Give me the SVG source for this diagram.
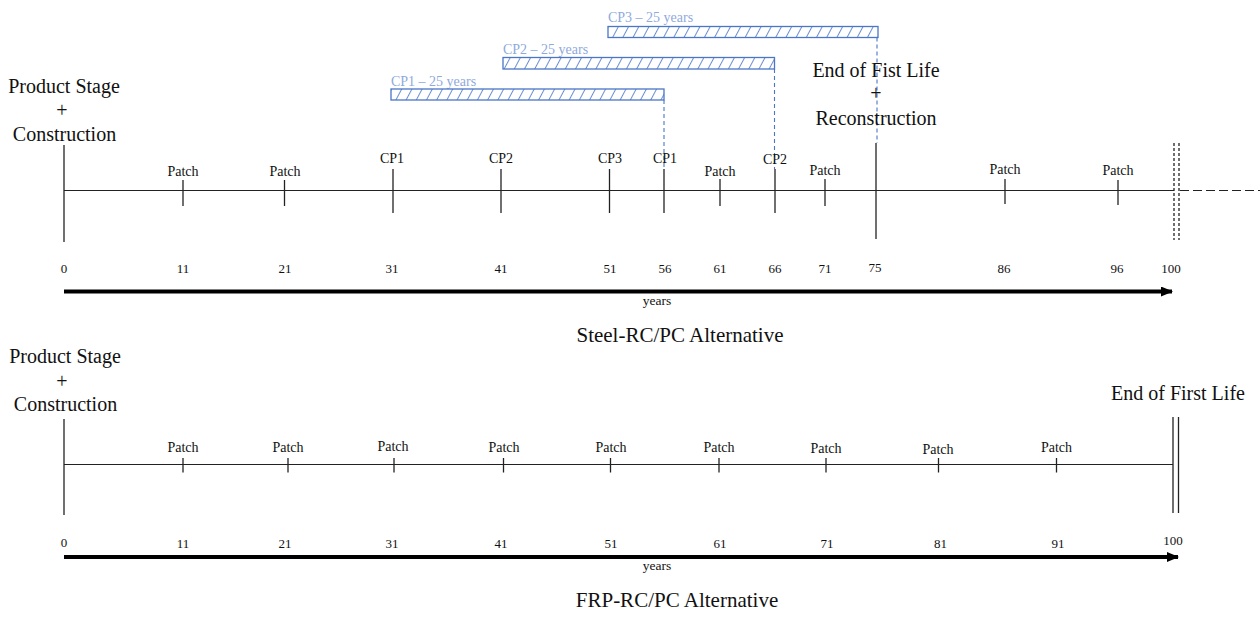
<svg xmlns="http://www.w3.org/2000/svg" width="1260" height="619" viewBox="0 0 1260 619">
<defs>
<style>
text{font-family:"Liberation Serif","Times New Roman",serif;fill:#111}
.big{font-size:20px;text-anchor:middle}
.title{font-size:21px;text-anchor:middle}
.lbl{font-size:14px;text-anchor:middle}
.num{font-size:13px;text-anchor:middle}
.yrs{font-size:13.5px;text-anchor:middle}
.cpl{font-size:14px;fill:#8faadc}
.ax{stroke:#222;stroke-width:1.2;fill:none}
.tk{stroke:#222;stroke-width:1.3;fill:none}
.bar{fill:url(#hatch);stroke:#4a76c6;stroke-width:1.3}
.dsh{stroke:#4a76c6;stroke-width:1.1;stroke-dasharray:4 3;fill:none}
.arr{stroke:#000;stroke-width:4;fill:none}
</style>
<pattern id="hatch" patternUnits="userSpaceOnUse" width="9" height="20" patternTransform="rotate(28)">
<rect width="9" height="20" fill="#fff"/>
<line x1="0.5" y1="0" x2="0.5" y2="20" stroke="#6a8fd2" stroke-width="1"/>
</pattern>
<marker id="ah" viewBox="0 0 12 10" refX="11" refY="5" markerWidth="12" markerHeight="10" markerUnits="userSpaceOnUse" orient="auto">
<path d="M0,0 L12,5 L0,10 Z" fill="#000"/>
</marker>
</defs>

<!-- Connectors: axes, ticks, arrows, dashed guides -->
<g id="connectors">
<!-- top timeline -->
<line class="ax" x1="64" y1="190.5" x2="1174" y2="190.5"/>
<line class="ax" x1="1180" y1="190.5" x2="1260" y2="190.5" stroke-dasharray="9 4"/>
<line class="tk" x1="64" y1="145" x2="64" y2="242"/>
<line class="tk" x1="876" y1="143" x2="876" y2="239"/>
<line class="tk" x1="1174" y1="143" x2="1174" y2="240" stroke-dasharray="3 2"/>
<line class="tk" x1="1179" y1="143" x2="1179" y2="240" stroke-dasharray="3 2"/>
<line class="arr" x1="64" y1="291.5" x2="1172" y2="291.5" marker-end="url(#ah)"/>
<line class="dsh" x1="664" y1="100" x2="664" y2="169"/>
<line class="dsh" x1="774.5" y1="69" x2="774.5" y2="169"/>
<line class="dsh" x1="877" y1="37.5" x2="877" y2="143"/>
<!-- bottom timeline -->
<line class="ax" x1="64" y1="464.5" x2="1173" y2="464.5"/>
<line class="tk" x1="64" y1="419" x2="64" y2="515"/>
<line class="tk" x1="1173" y1="417" x2="1173" y2="513"/>
<line class="tk" x1="1178.5" y1="417" x2="1178.5" y2="513"/>
<line class="arr" x1="64" y1="557" x2="1178" y2="557" marker-end="url(#ah)"/>
</g>

<!-- Top diagram nodes -->
<g id="top-start">
<text class="big" x="64" y="92.5">Product Stage</text>
<text class="big" x="62" y="117">+</text>
<text class="big" x="64.5" y="140.5">Construction</text>
<text class="num" x="64" y="273">0</text>
</g>
<g id="top-end-first-life">
<text class="big" x="876" y="77">End of Fist Life</text>
<text class="big" x="876" y="100">+</text>
<text class="big" x="876" y="125">Reconstruction</text>
<text class="num" x="875" y="272">75</text>
</g>
<g id="cp1-bar">
<text class="cpl" x="391" y="86">CP1 – 25 years</text>
<rect class="bar" x="391" y="89" width="273" height="11"/>
</g>
<g id="cp2-bar">
<text class="cpl" x="503" y="53.5">CP2 – 25 years</text>
<rect class="bar" x="503" y="57.5" width="271.5" height="11.5"/>
</g>
<g id="cp3-bar">
<text class="cpl" x="608" y="21.5">CP3 – 25 years</text>
<rect class="bar" x="608" y="26.5" width="270" height="11"/>
</g>
<g id="t11"><line class="tk" x1="183" y1="180" x2="183" y2="206"/><text class="lbl" x="183" y="176">Patch</text><text class="num" x="183" y="273">11</text></g>
<g id="t21"><line class="tk" x1="284.5" y1="180" x2="284.5" y2="206"/><text class="lbl" x="285" y="176">Patch</text><text class="num" x="285" y="273">21</text></g>
<g id="t31"><line class="tk" x1="393" y1="169" x2="393" y2="213"/><text class="lbl" x="392" y="163">CP1</text><text class="num" x="392" y="273">31</text></g>
<g id="t41"><line class="tk" x1="501" y1="169" x2="501" y2="213"/><text class="lbl" x="501" y="163">CP2</text><text class="num" x="501" y="273">41</text></g>
<g id="t51"><line class="tk" x1="609.5" y1="169" x2="609.5" y2="213"/><text class="lbl" x="610" y="163">CP3</text><text class="num" x="610" y="273">51</text></g>
<g id="t56"><line class="tk" x1="664" y1="169" x2="664" y2="213"/><text class="lbl" x="665" y="163">CP1</text><text class="num" x="665" y="273">56</text></g>
<g id="t61"><line class="tk" x1="720" y1="179" x2="720" y2="206"/><text class="lbl" x="720" y="176">Patch</text><text class="num" x="720" y="273">61</text></g>
<g id="t66"><line class="tk" x1="775" y1="169" x2="775" y2="213"/><text class="lbl" x="775" y="163.5">CP2</text><text class="num" x="775" y="273">66</text></g>
<g id="t71"><line class="tk" x1="825" y1="179" x2="825" y2="206"/><text class="lbl" x="825" y="175">Patch</text><text class="num" x="825" y="273">71</text></g>
<g id="t86"><line class="tk" x1="1005" y1="179" x2="1005" y2="204"/><text class="lbl" x="1005" y="174">Patch</text><text class="num" x="1004" y="273">86</text></g>
<g id="t96"><line class="tk" x1="1118" y1="180" x2="1118" y2="205"/><text class="lbl" x="1118" y="175">Patch</text><text class="num" x="1117" y="273">96</text></g>
<g id="t100"><text class="num" x="1171" y="273">100</text></g>
<g id="top-axis-label"><text class="yrs" x="657" y="305">years</text></g>
<g id="top-title"><text class="title" x="680" y="341.5">Steel-RC/PC Alternative</text></g>

<!-- Bottom diagram nodes -->
<g id="bottom-start">
<text class="big" x="65" y="362.5">Product Stage</text>
<text class="big" x="62" y="387.5">+</text>
<text class="big" x="65.5" y="410.5">Construction</text>
<text class="num" x="64" y="547">0</text>
</g>
<g id="bottom-end-first-life">
<text class="big" x="1178" y="400">End of First Life</text>
<text class="num" x="1173" y="545">100</text>
</g>
<g id="b11"><line class="tk" x1="183" y1="458" x2="183" y2="472.5"/><text class="lbl" x="183" y="451.5">Patch</text><text class="num" x="183" y="548">11</text></g>
<g id="b21"><line class="tk" x1="288" y1="458" x2="288" y2="472.5"/><text class="lbl" x="288" y="451.5">Patch</text><text class="num" x="285" y="548">21</text></g>
<g id="b31"><line class="tk" x1="394" y1="458" x2="394" y2="472.5"/><text class="lbl" x="393" y="451">Patch</text><text class="num" x="392" y="548">31</text></g>
<g id="b41"><line class="tk" x1="503.5" y1="458" x2="503.5" y2="472.5"/><text class="lbl" x="504" y="452">Patch</text><text class="num" x="501" y="548">41</text></g>
<g id="b51"><line class="tk" x1="610.5" y1="458" x2="610.5" y2="472.5"/><text class="lbl" x="611" y="452">Patch</text><text class="num" x="611" y="548">51</text></g>
<g id="b61"><line class="tk" x1="719" y1="458" x2="719" y2="472.5"/><text class="lbl" x="719" y="452">Patch</text><text class="num" x="720" y="548">61</text></g>
<g id="b71"><line class="tk" x1="826" y1="458" x2="826" y2="472.5"/><text class="lbl" x="826" y="452.5">Patch</text><text class="num" x="827" y="548">71</text></g>
<g id="b81"><line class="tk" x1="938.5" y1="458" x2="938.5" y2="472.5"/><text class="lbl" x="938" y="453.5">Patch</text><text class="num" x="940.5" y="548">81</text></g>
<g id="b91"><line class="tk" x1="1056.5" y1="458" x2="1056.5" y2="472.5"/><text class="lbl" x="1056.5" y="451.5">Patch</text><text class="num" x="1058" y="548">91</text></g>
<g id="bottom-axis-label"><text class="yrs" x="657" y="570">years</text></g>
<g id="bottom-title"><text class="title" x="677" y="607">FRP-RC/PC Alternative</text></g>
</svg>
